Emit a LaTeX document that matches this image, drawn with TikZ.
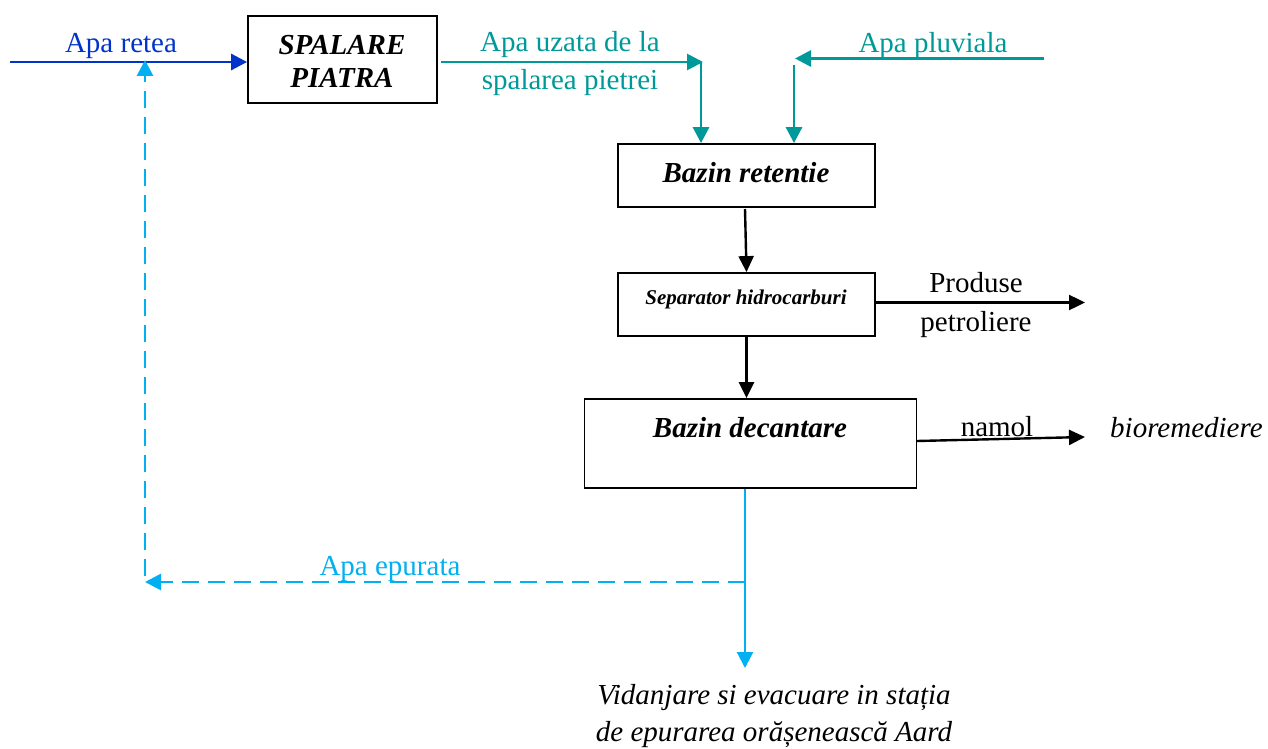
\documentclass[tikz,border=0pt]{standalone}
\usepackage{fontspec}
\setmainfont{Liberation Serif}
\usetikzlibrary{arrows.meta}
\definecolor{netblue}{HTML}{0033CC}
\definecolor{tealc}{HTML}{009999}
\definecolor{skyc}{HTML}{00B0F0}
\begin{document}
\begin{tikzpicture}[x=1pt,y=-1pt,
  box/.style={draw=black,line width=1.8pt,inner sep=0pt},
  big/.style={font=\fontsize{29}{33}\selectfont,inner sep=0pt,anchor=base},
  bigbi/.style={font=\fontsize{29}{33}\selectfont\bfseries\itshape,inner sep=0pt,anchor=base},
  flow/.style={line width=2.8pt,-{Triangle[length=16pt,width=16pt]}},
  blk/.style={line width=2.4pt,-{Triangle[length=16pt,width=15pt]}},
  dsh/.style={dash pattern=on 17pt off 9pt}]
\useasboundingbox (0,0) rectangle (1268,749);
\fill[white] (0,0) rectangle (1268,749);

% boxes
\node[box,minimum width=189pt,minimum height=87pt] (spal) at (342.5,59.5) {};
\node[box,minimum width=257pt,minimum height=63pt] (ret) at (746.5,175.5) {};
\node[box,minimum width=257pt,minimum height=63pt] (sep) at (746.5,304.5) {};
\node[box,minimum width=332pt,minimum height=89pt] (dec) at (750.5,443.5) {};

% box texts
\node[bigbi] (t1) at (342,55) {SPALARE};
\node[bigbi] (t2) at (342,88) {PIATRA};
\node[bigbi] (t3) at (746,182) {Bazin retentie};
\node[font=\fontsize{21}{25}\selectfont\bfseries\itshape,inner sep=0pt,anchor=base] (t4) at (746,304) {Separator hidrocarburi};
\node[bigbi] (t5) at (750,437) {Bazin decantare};

% free ends
\coordinate (inL) at (10,62);
\coordinate (uzR) at (703,62);
\coordinate (uzT) at (701,62);
\coordinate (pluR) at (1044,58.5);
\coordinate (pluL) at (795,58.5);
\coordinate (pluT) at (794,65);
\coordinate (prodE) at (1085,302.5);
\coordinate (namE) at (1085,437);
\coordinate (vidE) at (745,668);
\coordinate (jct) at (745,582);
\coordinate (epL) at (145,582);
\coordinate (upB) at (145,576);
\coordinate (upT) at (145,60);

% blue inflow
\draw[flow,netblue] (inL) -- (spal.west |- inL);
\node[big,text=netblue] (l1) at (121,53) {Apa retea};

% teal flows
\draw[flow,tealc] ([xshift=3pt]spal.east |- uzR) -- (uzR);
\draw[flow,tealc] (uzT) -- (uzT |- ret.north);
\node[big,text=tealc] (l2) at (570,52) {Apa uzata de la};
\node[big,text=tealc] (l3) at (570,90) {spalarea pietrei};
\draw[flow,tealc] (pluR) -- (pluL);
\draw[flow,tealc] (pluT) -- (pluT |- ret.north);
\node[big,text=tealc] (l4) at (933,53) {Apa pluviala};

% black flows
\draw[blk] (745,209) -- (sep.north);
\draw[blk] (sep.south) -- (dec.north -| sep.south);
\draw[blk] (sep.east |- prodE) -- (prodE);
\node[big] (l5) at (976,292) {Produse};
\node[big] (l6) at (976,331) {petroliere};
\draw[blk] (917,441) -- (namE);
\node[big] (l7) at (997,436) {namol};
\node[big,font=\fontsize{29}{33}\selectfont\itshape,anchor=base west] (l8) at (1110,437) {bioremediere};

% light blue outflows
\draw[flow,skyc,line width=2.2pt] (dec.south -| vidE) -- (vidE);
\draw[flow,skyc,dsh] (jct) -- (epL);
\draw[flow,skyc,dsh] (upB) -- (upT);
\node[big,text=skyc] (l9) at (390,575) {Apa epurata};

% bottom text
\node[big,font=\fontsize{29}{33}\selectfont\itshape] (l10) at (774,704) {Vidanjare si evacuare in stația};
\node[big,font=\fontsize{29}{33}\selectfont\itshape] (l11) at (774,741) {de epurarea orășenească Aard};
\end{tikzpicture}
\end{document}
